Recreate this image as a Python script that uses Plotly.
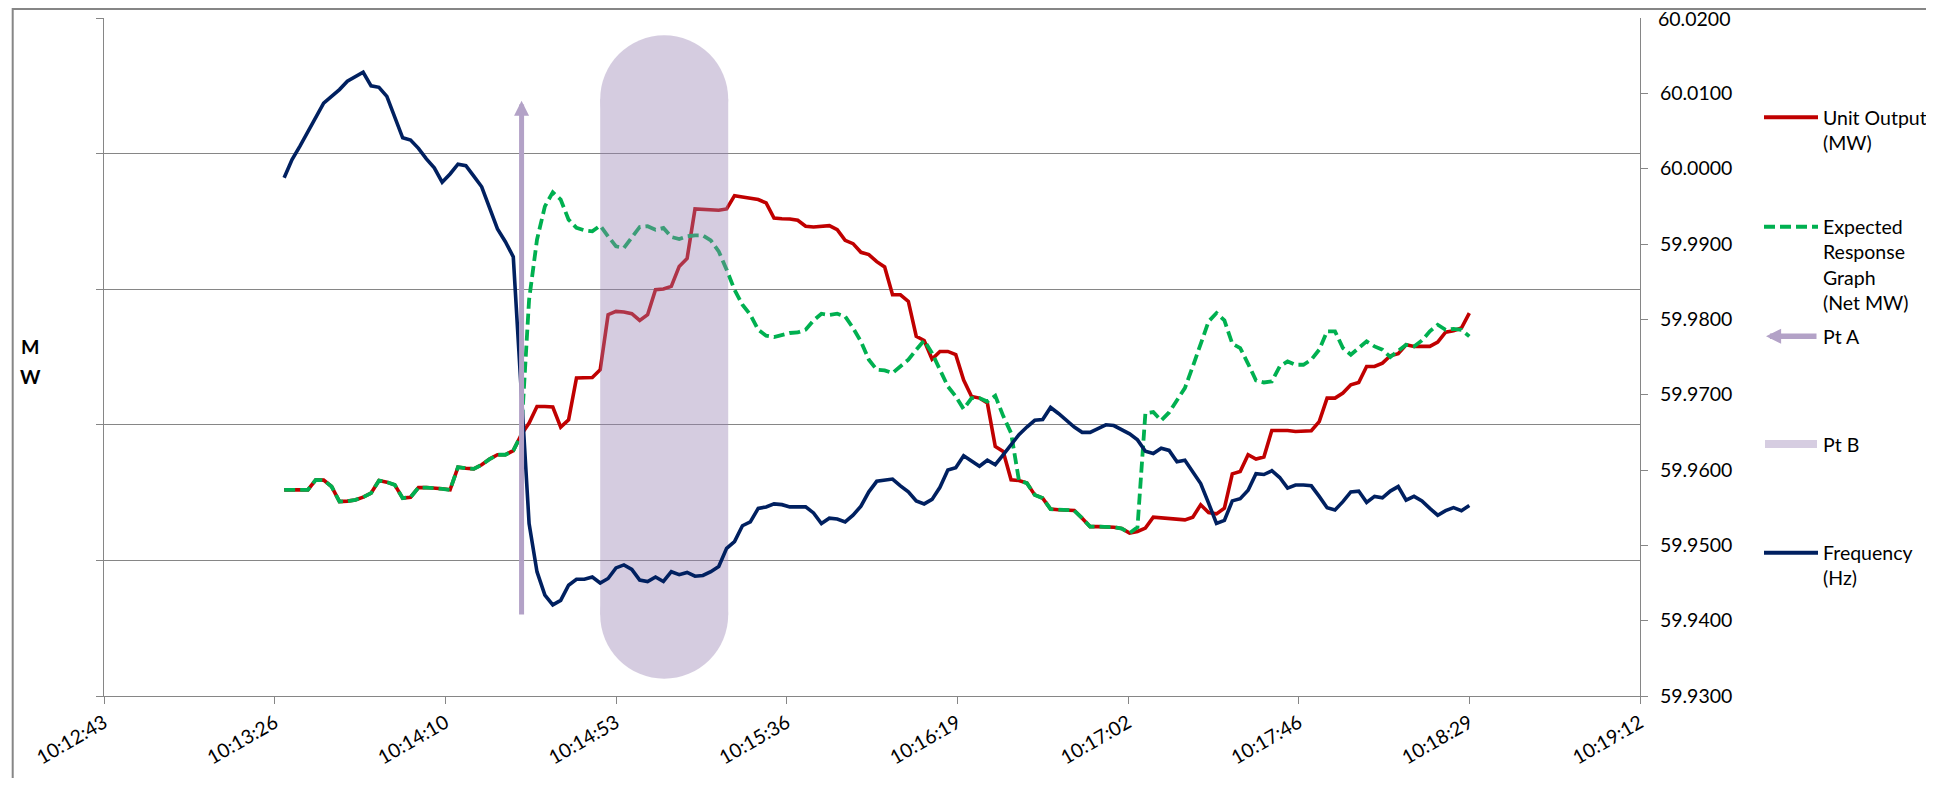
import pandas as pd
import plotly.graph_objects as go

DAY = "2013-06-01 "

# ---------------- data ----------------
SAMPLE_START = DAY + "10:13:28.8"
SAMPLE_STEP = "2s"
N_SAMPLES = 151

unit_output_mw = [
    465.20, 465.20, 465.20, 465.20, 465.94, 465.92, 465.45, 464.34, 464.37, 464.46,
    464.66, 464.96, 465.89, 465.77, 465.57, 464.59, 464.66, 465.37, 465.37, 465.35,
    465.28, 465.20, 466.88, 466.80, 466.75, 467.05, 467.47, 467.79, 467.79, 468.10,
    469.26, 470.13, 471.35, 471.35, 471.31, 469.83, 470.37, 473.45, 473.45, 473.49,
    474.06, 478.12, 478.36, 478.32, 478.19, 477.70, 478.12, 479.96, 480.01, 480.21,
    481.68, 482.27, 485.92, 485.87, 485.84, 485.82, 485.92, 486.90, 486.80, 486.70,
    486.61, 486.36, 485.25, 485.20, 485.18, 485.08, 484.64, 484.59, 484.64, 484.69,
    484.39, 483.60, 483.36, 482.72, 482.55, 482.03, 481.64, 479.59, 479.59, 479.10,
    476.52, 476.22, 474.85, 475.41, 475.41, 475.17, 473.30, 472.09, 471.97, 471.60,
    468.40, 468.03, 465.94, 465.89, 465.70, 464.83, 464.59, 463.78, 463.73, 463.73,
    463.68, 463.11, 462.49, 462.49, 462.49, 462.45, 462.35, 462.01, 462.13, 462.38,
    463.19, 463.14, 463.09, 463.04, 462.99, 463.19, 464.10, 463.53, 463.43, 463.85,
    466.38, 466.55, 467.79, 467.47, 467.62, 469.58, 469.58, 469.58, 469.51, 469.51,
    469.56, 470.24, 471.97, 471.97, 472.34, 472.95, 473.12, 474.30, 474.30, 474.55,
    475.09, 475.24, 475.90, 475.78, 475.78, 475.78, 476.10, 476.83, 476.94, 477.14,
    478.24,
]

expected_net_mw = [
    465.20, 465.20, 465.20, 465.20, 465.94, 465.92, 465.45, 464.34, 464.37, 464.46,
    464.66, 464.96, 465.89, 465.77, 465.57, 464.59, 464.66, 465.37, 465.37, 465.35,
    465.28, 465.20, 466.88, 466.80, 466.75, 467.05, 467.47, 467.79, 467.79, 468.10,
    469.26, 479.23, 483.65, 486.11, 487.15, 486.61, 485.13, 484.52, 484.34, 484.27,
    484.69, 483.90, 483.16, 483.04, 483.78, 484.59, 484.64, 484.39, 484.52, 483.85,
    483.70, 483.90, 483.97, 483.97, 483.60, 482.79, 481.44, 479.96, 478.86, 478.12,
    477.01, 476.57, 476.47, 476.64, 476.77, 476.81, 477.01, 477.70, 478.19, 478.10,
    478.19, 477.99, 477.14, 476.15, 474.80, 474.06, 474.01, 473.82, 474.30, 474.80,
    475.54, 476.22, 475.29, 474.06, 472.83, 472.09, 471.16, 471.97, 471.97, 471.72,
    472.14, 470.66, 469.40, 465.89, 465.70, 464.83, 464.59, 463.78, 463.73, 463.73,
    463.68, 463.11, 462.49, 462.49, 462.49, 462.45, 462.35, 462.01, 462.45, 470.86,
    470.94, 470.32, 470.91, 471.79, 472.71, 474.30, 476.02, 477.62, 478.24, 477.70,
    475.98, 475.66, 474.50, 473.27, 473.12, 473.20, 474.30, 474.67, 474.43, 474.43,
    474.80, 475.54, 476.89, 476.89, 475.66, 475.17, 475.66, 476.15, 475.78, 475.54,
    475.00, 475.41, 475.90, 475.78, 476.22, 476.89, 477.38, 477.01, 477.08, 477.01,
    476.52,
]

frequency_hz = [
    59.9988, 60.0012, 60.0030, 60.0049, 60.0069, 60.0087, 60.0096, 60.0105, 60.0116, 60.0122,
    60.0128, 60.0110, 60.0108, 60.0096, 60.0069, 60.0041, 60.0038, 60.0027, 60.0013, 60.0001,
    59.9982, 59.9993, 60.0006, 60.0004, 59.9990, 59.9976, 59.9948, 59.9920, 59.9903, 59.9883,
    59.9706, 59.9529, 59.9465, 59.9434, 59.9421, 59.9427, 59.9447, 59.9455, 59.9455, 59.9458,
    59.9450, 59.9456, 59.9470, 59.9474, 59.9468, 59.9454, 59.9452, 59.9458, 59.9452, 59.9465,
    59.9461, 59.9464, 59.9459, 59.9460, 59.9465, 59.9472, 59.9496, 59.9505, 59.9526, 59.9531,
    59.9549, 59.9551, 59.9555, 59.9554, 59.9551, 59.9551, 59.9551, 59.9543, 59.9529, 59.9536,
    59.9535, 59.9531, 59.9540, 59.9552, 59.9571, 59.9585, 59.9586, 59.9588, 59.9579, 59.9571,
    59.9559, 59.9555, 59.9561, 59.9577, 59.9600, 59.9603, 59.9619, 59.9612, 59.9605, 59.9613,
    59.9607, 59.9620, 59.9633, 59.9647, 59.9657, 59.9666, 59.9667, 59.9683, 59.9675, 59.9666,
    59.9657, 59.9650, 59.9650, 59.9655, 59.9660, 59.9659, 59.9654, 59.9648, 59.9640, 59.9625,
    59.9622, 59.9629, 59.9626, 59.9611, 59.9613, 59.9598, 59.9582, 59.9556, 59.9529, 59.9533,
    59.9559, 59.9562, 59.9573, 59.9595, 59.9594, 59.9599, 59.9590, 59.9576, 59.9580, 59.9580,
    59.9579, 59.9565, 59.9550, 59.9547, 59.9558, 59.9571, 59.9572, 59.9557, 59.9565, 59.9563,
    59.9572, 59.9578, 59.9560, 59.9565, 59.9559, 59.9549, 59.9540, 59.9546, 59.9550, 59.9546,
    59.9553,
]

pt_a_time = DAY + "10:14:28.9"
pt_a_mw = [455.9, 493.9]          # arrow tail, arrow tip
pt_b_time = DAY + "10:15:05.0"
pt_b_mw = [456.0, 494.0]

x_range = [DAY + "10:12:43.2", DAY + "10:19:12.0"]
tick_times = [DAY + t for t in ["10:12:43.2", "10:13:26.4", "10:14:09.6", "10:14:52.8",
                                "10:15:36.0", "10:16:19.2", "10:17:02.4", "10:17:45.6",
                                "10:18:28.8", "10:19:12.0"]]
tick_labels = ["10:12:43", "10:13:26", "10:14:10", "10:14:53", "10:15:36",
               "10:16:19", "10:17:02", "10:17:46", "10:18:29", "10:19:12"]
mw_range = [450, 500]
mw_step = 10
hz_range = [59.93, 60.02]
hz_ticks = [59.93, 59.94, 59.95, 59.96, 59.97, 59.98, 59.99, 60.00, 60.01, 60.02]

legend_names = ["Unit Output<br>(MW)", "Expected<br>Response<br>Graph<br>(Net MW)",
                "Pt A", "Pt B", "Frequency<br>(Hz)"]

# ---------------- style ----------------
RED = "#C00000"
GREEN = "#00B050"
NAVY = "#002060"
PT_A_COLOR = "#B3A2C7"
PT_B_SOLID = "rgb(152,130,180)"
PT_B_LEGEND = "#D6CDE1"
GRID = "#868686"
FONT = "Lato, Carlito, Calibri, sans-serif"
FS = 19.5

# the page body keeps its default 8px margin, so the figure is sized to fit the window
PAGE_OFF = 8
W_FIG, H_FIG = 1918, 770
ML, MT = 96, 10
PW, PH = 1536, 678
MR, MB = W_FIG - ML - PW, H_FIG - MT - PH


def px_x(page_px):
    return (page_px - PAGE_OFF - ML) / PW


def px_y(page_py):
    return (MT + PH - (page_py - PAGE_OFF)) / PH


times = pd.date_range(SAMPLE_START, periods=N_SAMPLES, freq=SAMPLE_STEP)

fig = go.Figure()
fig.add_trace(go.Scatter(x=times, y=unit_output_mw, mode="lines", name="Unit Output (MW)",
                         line=dict(color=RED, width=3.6), yaxis="y", showlegend=False))
fig.add_trace(go.Scatter(x=times, y=expected_net_mw, mode="lines",
                         name="Expected Response Graph (Net MW)",
                         line=dict(color=GREEN, width=3.8, dash="11px,5px"), yaxis="y",
                         showlegend=False))
fig.add_trace(go.Scatter(x=[pt_b_time, pt_b_time], y=pt_b_mw, mode="lines+markers", name="Pt B",
                         line=dict(color=PT_B_SOLID, width=128),
                         marker=dict(size=128, color=PT_B_SOLID, line=dict(width=0)),
                         opacity=0.4, yaxis="y", showlegend=False))
fig.add_trace(go.Scatter(x=times, y=frequency_hz, mode="lines", name="Frequency (Hz)",
                         line=dict(color=NAVY, width=3.6), yaxis="y2", showlegend=False))

annotations = []
# Pt A arrow
annotations.append(dict(x=pt_a_time, y=pt_a_mw[1], ax=pt_a_time, ay=pt_a_mw[0],
                        xref="x", yref="y", axref="x", ayref="y", text="",
                        showarrow=True, arrowhead=2, arrowwidth=5, arrowsize=0.6,
                        arrowcolor=PT_A_COLOR, standoff=0))

# top frequency tick label (the native one is hidden because it touches the page edge)
annotations.append(dict(x=1, y=hz_ticks[-1], xref="paper", yref="y2",
                        text=f"{hz_ticks[-1]:.4f}", showarrow=False, xanchor="left",
                        yanchor="middle", xshift=16,
                        font=dict(family=FONT, size=FS, color="#000000")))

# MW axis label
annotations.append(dict(x=px_x(30), y=px_y(346), xref="paper", yref="paper", text="<b>M</b>",
                        showarrow=False, xanchor="center", yanchor="middle",
                        font=dict(family=FONT, size=FS, color="#000000")))
annotations.append(dict(x=px_x(30), y=px_y(376), xref="paper", yref="paper", text="<b>W</b>",
                        showarrow=False, xanchor="center", yanchor="middle",
                        font=dict(family=FONT, size=FS, color="#000000")))

# custom legend
leg_y = [117.3, 226.7, 336.3, 444.0, 552.7]
shapes = []
shapes.append(dict(type="line", xref="paper", yref="paper", x0=px_x(1764), x1=px_x(1818),
                   y0=px_y(leg_y[0]), y1=px_y(leg_y[0]), line=dict(color=RED, width=4)))
shapes.append(dict(type="line", xref="paper", yref="paper", x0=px_x(1764), x1=px_x(1818),
                   y0=px_y(leg_y[1]), y1=px_y(leg_y[1]),
                   line=dict(color=GREEN, width=4, dash="11px,5px")))
shapes.append(dict(type="line", xref="paper", yref="paper", x0=px_x(1765), x1=px_x(1817),
                   y0=px_y(leg_y[3]), y1=px_y(leg_y[3]), line=dict(color=PT_B_LEGEND, width=8)))
shapes.append(dict(type="line", xref="paper", yref="paper", x0=px_x(1764), x1=px_x(1818),
                   y0=px_y(leg_y[4]), y1=px_y(leg_y[4]), line=dict(color=NAVY, width=4)))
annotations.append(dict(x=px_x(1766), y=px_y(leg_y[2]), xref="paper", yref="paper",
                        ax=52, ay=0, text="", showarrow=True, arrowhead=2, arrowwidth=5.5,
                        arrowsize=0.55, arrowcolor=PT_A_COLOR, standoff=0))
for name, ly in zip(legend_names, leg_y):
    annotations.append(dict(x=px_x(1821), y=px_y(ly - 13.5), xref="paper", yref="paper",
                            text=name, showarrow=False, xanchor="left", yanchor="top",
                            align="left", font=dict(family=FONT, size=FS, color="#000000")))

# outer chart border (partly outside the picture)
shapes.append(dict(type="rect", xref="paper", yref="paper", x0=px_x(12.7), x1=px_x(1990),
                   y0=px_y(9), y1=px_y(840), line=dict(color=GRID, width=2),
                   fillcolor="rgba(0,0,0,0)", layer="above"))

fig.update_layout(
    width=W_FIG, height=H_FIG,
    margin=dict(l=ML, r=MR, t=MT, b=MB, pad=0, autoexpand=False),
    paper_bgcolor="white", plot_bgcolor="white",
    font=dict(family=FONT, size=FS, color="#000000"),
    showlegend=False,
    xaxis=dict(type="date", range=x_range, tickvals=tick_times, ticktext=tick_labels,
               tickangle=-30, ticks="outside", ticklen=7, tickcolor=GRID, tickwidth=1,
               showline=True, linecolor=GRID, linewidth=1, showgrid=False, zeroline=False,
               automargin=False, tickfont=dict(family=FONT, size=FS)),
    yaxis=dict(range=mw_range, dtick=mw_step, tick0=mw_range[0], showticklabels=False,
               ticks="outside", ticklen=7, tickcolor=GRID, showline=True, linecolor=GRID,
               linewidth=1, showgrid=True, gridcolor=GRID, gridwidth=1, zeroline=False,
               automargin=False),
    yaxis2=dict(range=hz_range, tickmode="array", tickvals=hz_ticks[:-1], overlaying="y",
                side="right", tickformat=".4f", ticks="outside", ticklen=7, tickcolor=GRID,
                showline=True, linecolor=GRID, linewidth=1, showgrid=False, zeroline=False,
                ticklabelstandoff=8, automargin=False,
                tickfont=dict(family=FONT, size=FS)),
    annotations=annotations,
    shapes=shapes,
)

fig.write_html("out.html")
